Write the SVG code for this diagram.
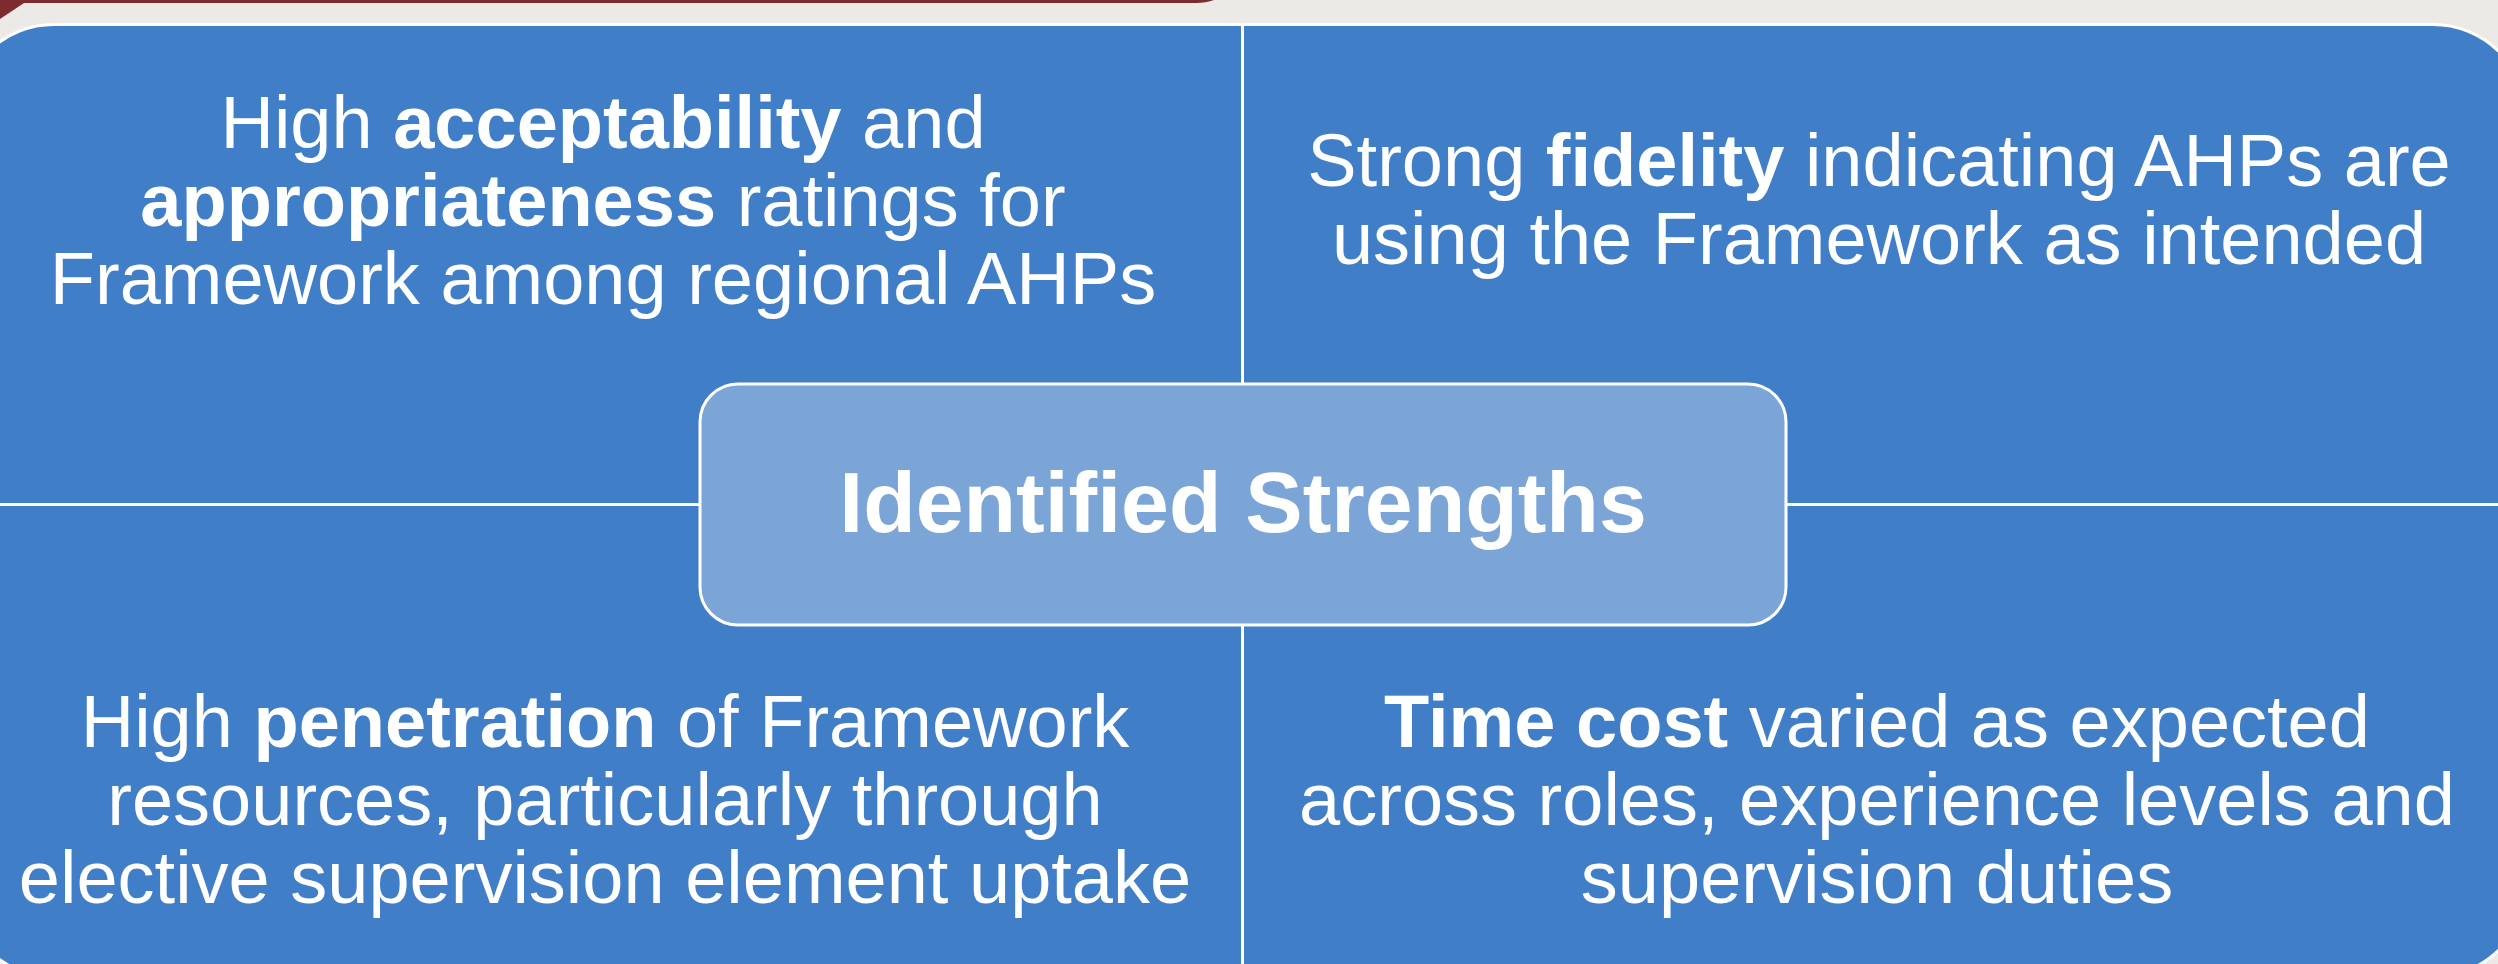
<svg xmlns="http://www.w3.org/2000/svg" width="2498" height="964" viewBox="0 0 2498 964">
<style>
.q{fill:#407FC7;stroke:#FFFFFF;stroke-width:3}
.t{font-family:"Liberation Sans",Arial,sans-serif;font-size:74px;fill:#FFFFFF;text-anchor:middle}
.b{font-weight:bold}
.c{fill:#7BA5D7;stroke:#FFFFFF;stroke-width:3}
</style>
<rect x="0" y="0" width="2498" height="964" fill="#EBEAE6"/>
<path d="M0,0 H1214 Q1206,3 1196,3 H24 L0,19 Z" fill="#7E2B30"/>
<g id="q-top-left">
<path class="q" d="M-40,504.5 V118.5 A94,94 0 0 1 54,24.5 H1242.5 V504.5 Z"/>
<text class="t" x="603" y="148">High <tspan class="b">acceptability</tspan> and</text>
<text class="t" x="603" y="226"><tspan class="b">appropriateness</tspan> ratings for</text>
<text class="t" x="603" y="304">Framework among regional AHPs</text>
</g>
<g id="q-top-right">
<path class="q" d="M1242.5,504.5 V24.5 H2433 A94,94 0 0 1 2527,118.5 V504.5 Z"/>
<text class="t" x="1879" y="186">Strong <tspan class="b">fidelity</tspan> indicating AHPs are</text>
<text class="t" x="1879" y="264">using the Framework as intended</text>
</g>
<g id="q-bottom-left">
<path class="q" d="M-40,504.5 H1242.5 V977 H54 A94,94 0 0 1 -40,883 Z"/>
<text class="t" x="605" y="747">High <tspan class="b">penetration</tspan> of Framework</text>
<text class="t" x="605" y="825">resources, particularly through</text>
<text class="t" x="605" y="903">elective supervision element uptake</text>
</g>
<g id="q-bottom-right">
<path class="q" d="M1242.5,504.5 H2527 V883 A94,94 0 0 1 2433,977 H1242.5 Z"/>
<text class="t" x="1877" y="747"><tspan class="b">Time cost</tspan> varied as expected</text>
<text class="t" x="1877" y="825">across roles, experience levels and</text>
<text class="t" x="1877" y="903">supervision duties</text>
</g>
<g id="connectors"></g>
<g id="center">
<rect class="c" x="700" y="384" width="1086" height="241" rx="38" ry="38"/>
<text class="t b" x="1243" y="532" style="font-size:86px">Identified Strengths</text>
</g>
</svg>
